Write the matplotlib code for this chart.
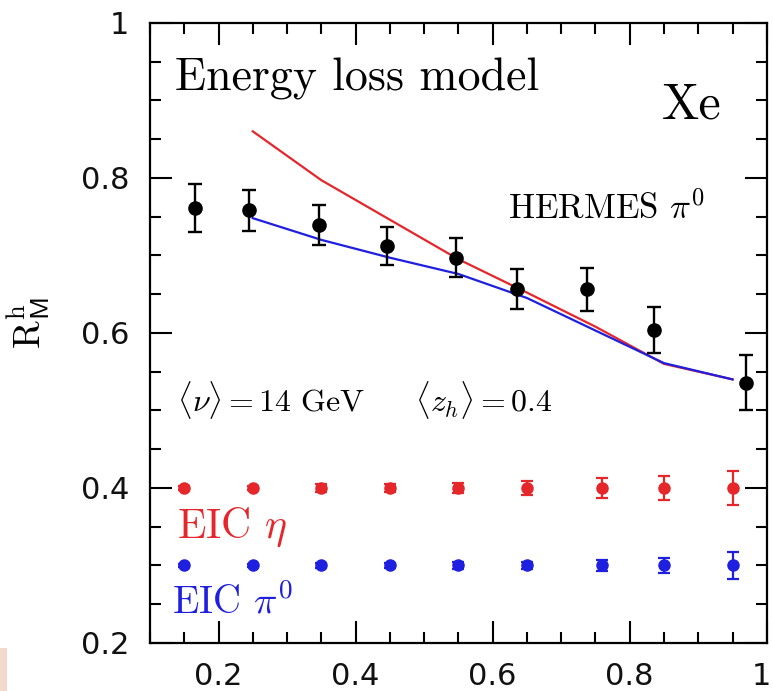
import matplotlib
matplotlib.use("Agg")
import matplotlib.pyplot as plt
import matplotlib.transforms as mtransforms
from matplotlib.patches import Polygon

plt.rcParams['mathtext.fontset'] = 'cm'

# HERMES pi0 data
hermes_x = [0.165, 0.244, 0.347, 0.446, 0.547, 0.636, 0.737, 0.836, 0.969]
hermes_y = [0.761, 0.758, 0.739, 0.712, 0.697, 0.657, 0.656, 0.604, 0.536]
hermes_err = [0.031, 0.026, 0.026, 0.025, 0.025, 0.026, 0.028, 0.030, 0.035]

# Energy loss model curves
model_x = [0.25, 0.35, 0.45, 0.55, 0.65, 0.75, 0.85, 0.95]
model_eta = [0.860, 0.797, 0.746, 0.695, 0.652, 0.608, 0.560, 0.540]
model_pi0 = [0.748, 0.720, 0.697, 0.676, 0.645, 0.603, 0.561, 0.540]

# EIC projections
eic_x = [0.15, 0.25, 0.35, 0.45, 0.55, 0.65, 0.76, 0.85, 0.95]
eic_eta_y = [0.4, 0.4, 0.4, 0.4, 0.4, 0.4, 0.4, 0.4, 0.4]
eic_eta_err = [0.003, 0.003, 0.005, 0.005, 0.006, 0.009, 0.013, 0.015, 0.022]
eic_pi0_y = [0.3, 0.3, 0.3, 0.3, 0.3, 0.3, 0.3, 0.3, 0.3]
eic_pi0_err = [0.002, 0.002, 0.003, 0.003, 0.004, 0.005, 0.007, 0.010, 0.017]

x_ticks = [0.2, 0.4, 0.6, 0.8, 1.0]
x_tick_labels = ['0.2', '0.4', '0.6', '0.8', '1']
y_ticks = [0.2, 0.4, 0.6, 0.8, 1.0]
y_tick_labels = ['0.2', '0.4', '0.6', '0.8', '1']

RED = '#e5262a'
BLUE = '#1f1fe0'

fig = plt.figure(figsize=(7.73, 6.91), dpi=100)
ax = fig.add_axes([0.194, 0.0695, 0.798, 0.8975])

ax.plot(model_x, model_eta, color=RED, lw=1.6, zorder=3)
ax.plot(model_x, model_pi0, color=BLUE, lw=1.6, zorder=3)

ax.errorbar(hermes_x, hermes_y, yerr=hermes_err, fmt='o', color='black',
            ms=9.5, elinewidth=1.7, capsize=5, capthick=1.7, zorder=4)
ax.errorbar(eic_x, eic_eta_y, yerr=eic_eta_err, fmt='o', color=RED,
            ms=8, elinewidth=1.6, capsize=4, capthick=1.6, zorder=4)
ax.errorbar(eic_x, eic_pi0_y, yerr=eic_pi0_err, fmt='o', color=BLUE,
            ms=8, elinewidth=1.6, capsize=4, capthick=1.6, zorder=4)

ax.set_xlim(0.1, 1.0)
ax.set_ylim(0.2, 1.0)
ax.set_xticks(x_ticks)
ax.set_xticklabels(x_tick_labels)
ax.set_yticks(y_ticks)
ax.set_yticklabels(y_tick_labels)
ax.set_xticks([0.1 + 0.05 * i for i in range(19)], minor=True)
ax.set_yticks([0.2 + 0.05 * i for i in range(17)], minor=True)

ax.tick_params(which='both', direction='in', top=True, right=True, width=1.5, color='black')
ax.tick_params(which='major', length=16)
ax.tick_params(which='minor', length=8)
ax.tick_params(axis='y', which='major', pad=15)
ax.tick_params(axis='x', which='major', pad=14)
for lbl in ax.get_xticklabels() + ax.get_yticklabels():
    lbl.set_fontfamily('DejaVu Sans')
    lbl.set_fontsize(22)
    lbl.set_color('#111111')
for sp in ax.spines.values():
    sp.set_linewidth(1.6)

# nudge the last x tick label ("1") slightly left so it stays inside the figure
last = ax.get_xticklabels()[-1]
last.set_transform(last.get_transform() +
                   mtransforms.ScaledTranslation(-5 / 100, 0, fig.dpi_scale_trans))

ax.set_ylabel(r'$\mathrm{R}^{\mathrm{h}}_{\mathsf{M}}$', fontsize=27, rotation=90)
ax.yaxis.set_label_coords(-0.158, 0.515)

ax.text(0.1365, 0.913, 'Energy loss model', family='cmr10', fontsize=33, va='baseline')
ax.text(0.847, 0.876, 'Xe', family='cmr10', fontsize=36, va='baseline')
ax.text(0.6226, 0.747, r'HERMES $\pi^0$', family='cmr10', fontsize=25, va='baseline')
ax.text(0.139, 0.498, r'$\langle\nu\rangle = 14\ \mathrm{GeV}$', fontsize=23, va='baseline')
ax.text(0.487, 0.498, r'$\langle z_h\rangle = 0.4$', fontsize=23, va='baseline')
ax.text(0.139, 0.335, r'EIC $\eta$', family='cmr10', fontsize=30, va='baseline', color=RED)
ax.text(0.132, 0.238, r'EIC $\pi^0$', family='cmr10', fontsize=28, va='baseline', color=BLUE)

# faint watermark fragment in the lower-left corner
fig.patches.append(Polygon([[0, 43 / 691], [7 / 773, 43 / 691], [7 / 773, 0], [0, 0]],
                           closed=True, transform=fig.transFigure,
                           facecolor='#f3d9cb', edgecolor='none'))

fig.savefig('out.png', dpi=100)
